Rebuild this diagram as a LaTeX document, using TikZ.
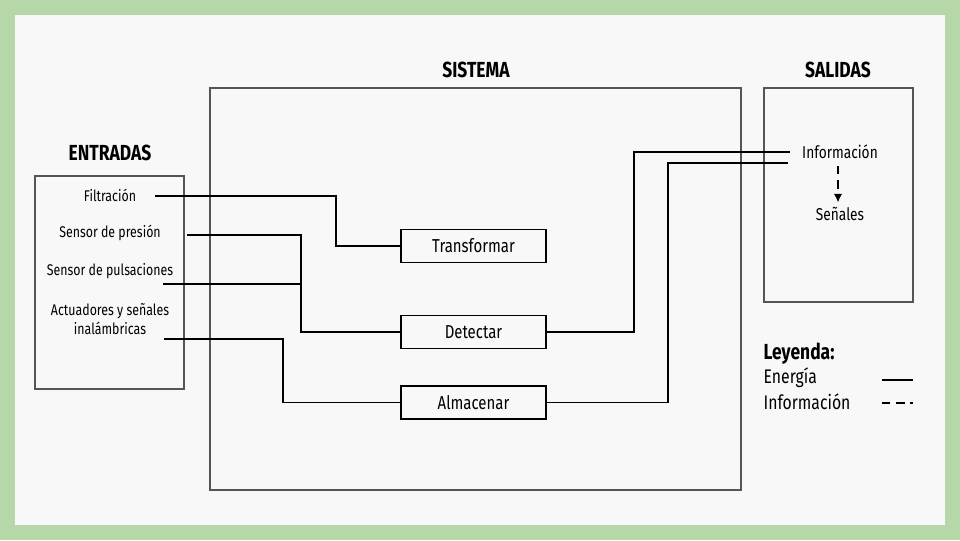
\documentclass[tikz,border=0pt]{standalone}
\usepackage{fontspec}
\setmainfont[FakeStretch=0.8]{Fira Sans}
\usetikzlibrary{arrows.meta, positioning}
\definecolor{framegreen}{RGB}{182,215,168}
\definecolor{paper}{RGB}{248,248,248}
\definecolor{boxgray}{RGB}{85,85,85}

\begin{document}
\begin{tikzpicture}[x=0.025cm, y=-0.025cm,
                area/.style={draw=boxgray, line width=1.6pt},
                func/.style={draw, line width=1pt, minimum width=3.625cm, minimum height=0.825cm, font=\fontsize{13.3}{15}\selectfont},
                title/.style={font=\fontsize{15.5}{17}\selectfont\bfseries},
                item/.style={font=\fontsize{11}{14}\selectfont, align=center},
                outitem/.style={font=\fontsize{12.2}{14}\selectfont},
                legtext/.style={font=\fontsize{14}{16}\selectfont, anchor=west, inner sep=1pt},
                link/.style={line width=1.1pt},
                infoline/.style={dash pattern=on 6pt off 4pt}]
    % fondo y marco
    \fill[framegreen] (0,0) rectangle (960,540);
    \fill[paper] (15,15) rectangle (945,525);
    \useasboundingbox (0,0) rectangle (960,540);

    % zonas
    \node[area, minimum width=3.725cm, minimum height=5.325cm] (entradas) at (109.5,282.5) {};
    \node[area, minimum width=13.275cm, minimum height=10.05cm] (sistema) at (475.5,289) {};
    \node[area, minimum width=3.725cm, minimum height=5.35cm] (salidas) at (838.5,195) {};
    \node[title] at (110,153) {ENTRADAS};
    \node[title] at (476,70) {SISTEMA};
    \node[title] at (838,70) {SALIDAS};

    % entradas
    \node[item] (filt) at (110,195) {Filtración};
    \node[item] (pres) at (110,233) {Sensor de presión};
    \node[item] (puls) at (110,271) {Sensor de pulsaciones};
    \node[item] (act) at (110,319) {Actuadores y señales\\inalámbricas};
    \coordinate (filtout) at (155,196);
    \coordinate (presout) at (187,235);
    \coordinate (pulsout) at (163,284);
    \coordinate (actout) at (164,339);

    % funciones
    \node[func] (trans) at (473.5,246) {Transformar};
    \node[func] (detec) at (473.5,332) {Detectar};
    \node[func] (almac) at (473.5,402.5) {Almacenar};

    % salidas
    \node[outitem] (info) at (840,152) {Información};
    \node[outitem] (senal) at (840,214) {Señales};
    \draw[infoline, -{Latex[length=6pt, width=6pt]}, line width=0.9pt] (838,166) -- (senal.north -| 838,0);
    \coordinate (infoin1) at (790,152);
    \coordinate (infoin2) at (788,163);

    % conexiones
    \draw[link] (filtout) -- ++(181,0) |- (trans.west);
    \draw[link] (presout) -- ++(114,0) |- (detec.west);
    \draw[link] (pulsout) -- ++(138,0);
    \draw[link] (actout) -- ++(119,0) |- (almac.west);
    \draw[link] (detec.east) -- ++(87,0) |- (infoin1);
    \draw[link] (almac.east) -- ++(121,0) |- (infoin2);

    % leyenda
    \node[title, anchor=west, inner sep=1pt] (ley) at (762,354) {Leyenda:};
    \node[legtext] (energia) at (762,378) {Energía};
    \node[legtext] (infoley) at (762,402) {Información};
    \draw[link] (882,380) -- (913,380);
    \draw[link, infoline] (882,403) -- (913,403);
\end{tikzpicture}
\end{document}
